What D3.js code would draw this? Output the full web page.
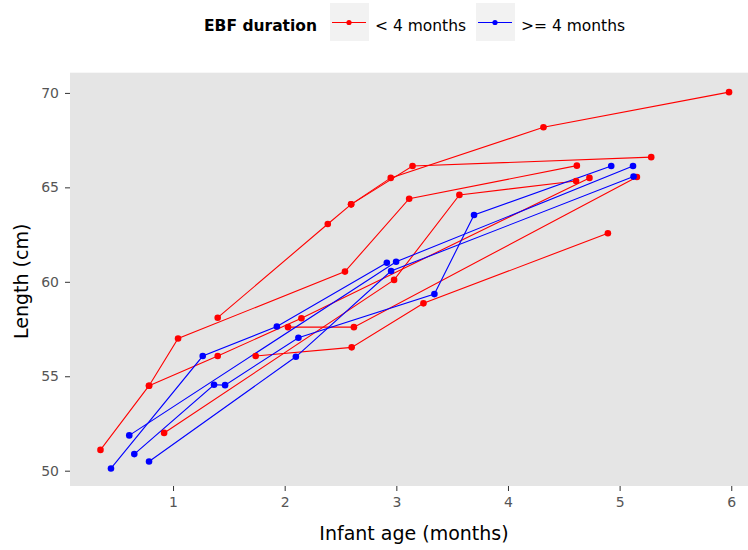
<!DOCTYPE html>
<html>
<head>
<meta charset="utf-8">
<script src="https://cdn.jsdelivr.net/npm/d3@7"></script>
<style>
  html, body { margin: 0; padding: 0; background: #ffffff; }
  svg { display: block; }
</style>
</head>
<body>
<svg id="chart" width="748" height="550"></svg>
<script>
// ---- data ----
const groupLabels = ["< 4 months", ">= 4 months"];
const groupColors = ["#FF0000", "#0000FF"];
const xTicks = [1, 2, 3, 4, 5, 6];
const yTicks = [50, 55, 60, 65, 70];

// one entry per infant: group index, ages (months), lengths (cm)
const infantGroup = [0, 0, 0, 0, 0, 0, 0, 1, 1, 1, 1];
const infantAges = [
  [0.35, 0.785, 1.045, 2.54, 3.115, 4.617],
  [0.785, 1.40, 2.15, 4.73],
  [1.40, 2.386, 2.595, 2.95, 4.318, 5.98],
  [2.595, 3.145, 5.283],
  [0.92, 2.98, 3.565, 4.61],
  [1.74, 2.60, 3.243, 4.895],
  [2.03, 2.62, 5.155],
  [0.444, 1.266, 1.93, 2.915],
  [0.608, 2.998, 5.12],
  [0.653, 1.367, 1.466, 2.123, 3.341, 3.696, 4.925],
  [0.785, 2.10, 2.953, 5.125]
];
const infantLengths = [
  [51.1, 54.5, 57.0, 60.54, 64.4, 66.15],
  [54.5, 56.07, 58.07, 65.5],
  [58.1, 63.06, 64.1, 65.5, 68.18, 70.04],
  [64.1, 66.13, 66.6],
  [52.0, 60.1, 64.6, 65.34],
  [56.07, 56.53, 58.86, 62.57],
  [57.6, 57.6, 65.55],
  [50.12, 56.07, 57.63, 61.01],
  [51.87, 61.06, 66.13],
  [50.88, 54.55, 54.53, 57.04, 59.35, 63.54, 66.13],
  [50.49, 56.03, 60.57, 65.57]
];

// ---- layout ----
const svg = d3.select("#chart");
const panel = { left: 70, right: 748, top: 72.7, bottom: 486 };
const x = d3.scaleLinear().domain([0.077, 6.15]).range([panel.left, panel.right]);
const y = d3.scaleLinear().domain([49.19, 71.07]).range([panel.bottom, panel.top]);

const infants = infantAges.map((ages, i) => ({
  group: infantGroup[i],
  pts: ages.map((a, j) => ({ age: a, len: infantLengths[i][j] }))
}));

// panel background
svg.append("rect")
  .attr("x", panel.left).attr("y", panel.top)
  .attr("width", panel.right - panel.left).attr("height", panel.bottom - panel.top)
  .attr("fill", "#E5E5E5");

// axes
const xAxis = d3.axisBottom(x).tickValues(xTicks).tickSize(5).tickPadding(6).tickFormat(d3.format("d"));
const yAxis = d3.axisLeft(y).tickValues(yTicks).tickSize(5).tickPadding(6).tickFormat(d3.format("d"));

const gx = svg.append("g").attr("transform", `translate(0,${panel.bottom})`).call(xAxis);
const gy = svg.append("g").attr("transform", `translate(${panel.left},0)`).call(yAxis);
[gx, gy].forEach(g => {
  g.select(".domain").remove();
  g.selectAll(".tick line").attr("stroke", "#333333").attr("stroke-width", 1);
  g.selectAll(".tick text")
    .attr("fill", "#555555")
    .attr("font-family", "DejaVu Sans, sans-serif")
    .attr("font-size", 14);
});

// axis titles
svg.append("text")
  .attr("x", 414).attr("y", 540)
  .attr("text-anchor", "middle")
  .attr("font-family", "DejaVu Sans, sans-serif").attr("font-size", 19)
  .attr("fill", "#000000")
  .text("Infant age (months)");
svg.append("text")
  .attr("transform", `translate(28,${(panel.top + panel.bottom) / 2 + 2}) rotate(-90)`)
  .attr("text-anchor", "middle")
  .attr("font-family", "DejaVu Sans, sans-serif").attr("font-size", 19)
  .attr("fill", "#000000")
  .text("Length (cm)");

// lines
const line = d3.line().x(d => x(d.age)).y(d => y(d.len));
svg.append("g").selectAll("path")
  .data(infants)
  .join("path")
  .attr("d", d => line(d.pts))
  .attr("fill", "none")
  .attr("stroke", d => groupColors[d.group])
  .attr("stroke-width", 1.1);

// points
svg.append("g").selectAll("g")
  .data(infants)
  .join("g")
  .attr("fill", d => groupColors[d.group])
  .selectAll("circle")
  .data(d => d.pts)
  .join("circle")
  .attr("cx", d => x(d.age))
  .attr("cy", d => y(d.len))
  .attr("r", 3.3);

// legend
const legend = svg.append("g");
legend.append("text")
  .attr("x", 204).attr("y", 31)
  .attr("font-family", "DejaVu Sans, sans-serif").attr("font-size", 15.5)
  .attr("font-weight", "bold").attr("fill", "#000000")
  .text("EBF duration");
const keyX = [330, 476];
const labX = [375, 521];
groupLabels.forEach((lab, i) => {
  legend.append("rect")
    .attr("x", keyX[i]).attr("y", 3).attr("width", 39).attr("height", 38)
    .attr("fill", "#F2F2F2");
  legend.append("line")
    .attr("x1", keyX[i] + 2).attr("x2", keyX[i] + 36)
    .attr("y1", 22.5).attr("y2", 22.5)
    .attr("stroke", groupColors[i]).attr("stroke-width", 1.1);
  legend.append("circle")
    .attr("cx", keyX[i] + 19).attr("cy", 22.5).attr("r", 2.6)
    .attr("fill", groupColors[i]);
  legend.append("text")
    .attr("x", labX[i]).attr("y", 31)
    .attr("font-family", "DejaVu Sans, sans-serif").attr("font-size", 15.5)
    .attr("fill", "#000000")
    .text(lab);
});
</script>
</body>
</html>
